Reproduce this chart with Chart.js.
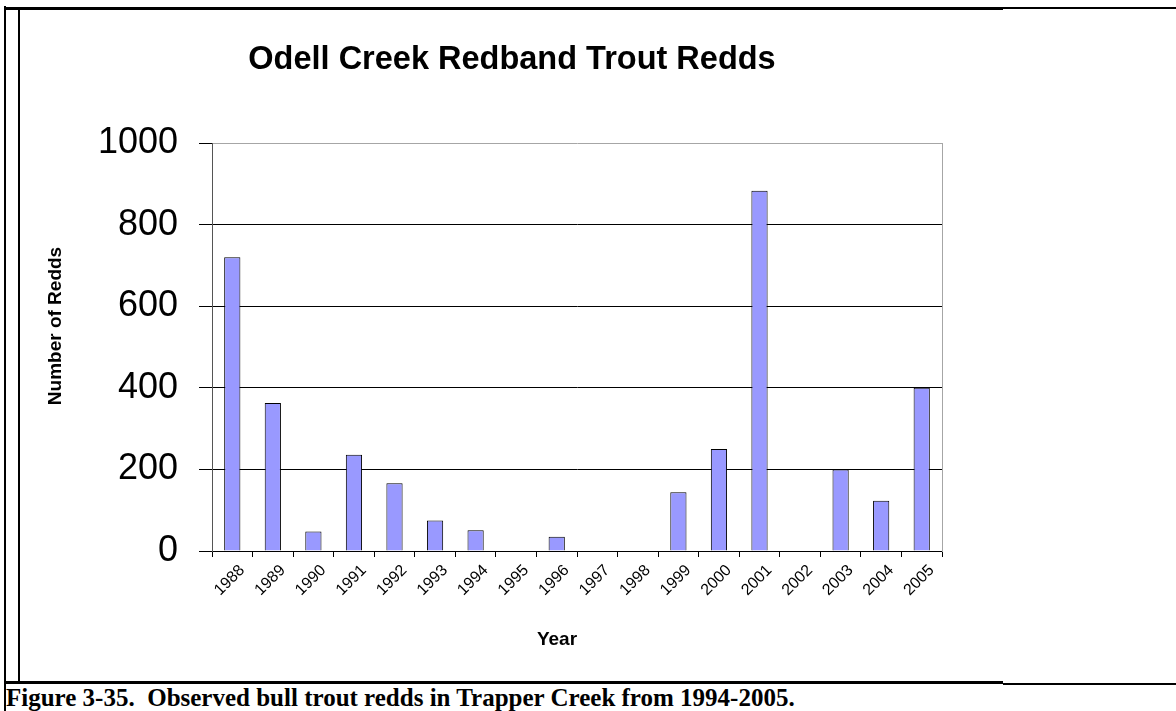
<!DOCTYPE html>
<html>
<head>
<meta charset="utf-8">
<script src="https://cdn.jsdelivr.net/npm/chart.js@4/dist/chart.umd.min.js"></script>
<style>
  html, body { margin: 0; padding: 0; background: #fff; }
  body { width: 1176px; height: 711px; position: relative; overflow: hidden; }
  .ln { position: absolute; background: #000; }
  #wrap { position: absolute; left: 21px; top: 10px; width: 982px; height: 671px; }
  #caption {
    position: absolute; left: 6px; top: 685px;
    font: bold 25px/1 "Liberation Serif", "Times New Roman", serif;
    white-space: pre; color: #000;
  }
</style>
</head>
<body>
<div class="ln" style="left:4px;top:6px;width:2px;height:705px"></div>
<div class="ln" style="left:4px;top:7px;width:999px;height:3px"></div>
<div class="ln" style="left:1003px;top:7px;width:173px;height:2px"></div>
<div class="ln" style="left:18px;top:7px;width:2px;height:677px"></div>
<div class="ln" style="left:4px;top:681px;width:999px;height:3px"></div>
<div class="ln" style="left:1003px;top:683px;width:173px;height:2px"></div>
<div id="wrap"><canvas id="reddChart"></canvas></div>
<div id="caption">Figure 3-35.  Observed bull trout redds in Trapper Creek from 1994-2005.</div>

<script>
const years = ["1988", "1989", "1990", "1991", "1992", "1993", "1994", "1995", "1996",
               "1997", "1998", "1999", "2000", "2001", "2002", "2003", "2004", "2005"];
const redds = [720, 363, 48, 236, 166, 75, 51, 0, 35, 0, 0, 144, 250, 883, 0, 200, 123, 400];
const yTicks = [0, 200, 400, 600, 800, 1000];

const chartTitle = "Odell Creek Redband Trout Redds";
const xTitle = "Year";
const yTitle = "Number of Redds";

const FONT = "'Liberation Sans', Arial, sans-serif";

// axis titles sit a bit off the plot centre in the original, so draw them here
const axisTitles = {
    id: "axisTitles",
    afterDraw(chart) {
        const ctx = chart.ctx;
        ctx.save();
        ctx.fillStyle = "#000";
        ctx.font = "bold 19px " + FONT;
        ctx.textAlign = "center";
        ctx.textBaseline = "middle";
        ctx.fillText(xTitle, 536, 630);
        ctx.translate(35, 316);
        ctx.rotate(-Math.PI / 2);
        ctx.fillText(yTitle, 0, 0);
        ctx.restore();
    }
};

const ctx = document.getElementById("reddChart");

new Chart(ctx, {
    type: "bar",
    data: {
        labels: years,
        datasets: [{
            label: "Redds",
            data: redds,
            backgroundColor: "#9999ff",
            borderColor: "#000",
            borderWidth: 1,
            borderSkipped: "start",
            categoryPercentage: 1,
            barPercentage: 0.4
        }]
    },
    options: {
        responsive: true,
        maintainAspectRatio: false,
        animation: false,
        layout: { padding: 0 },
        plugins: {
            legend: { display: false },
            tooltip: { enabled: false },
            title: {
                display: true,
                text: chartTitle,
                color: "#000",
                font: { family: FONT, size: 32.5, weight: "bold" },
                padding: { top: 31, bottom: 63 }
            }
        },
        scales: {
            x: {
                offset: true,
                grid: {
                    offset: true,
                    drawOnChartArea: false,
                    tickLength: 6,
                    color: "#000"
                },
                border: { color: "#000", width: 1 },
                ticks: {
                    color: "#000",
                    font: { family: FONT, size: 16 },
                    minRotation: 45,
                    maxRotation: 45,
                    padding: 4,
                    labelOffset: 10,
                    autoSkip: false
                },
                afterFit: s => { s.height = 130; }
            },
            y: {
                min: 0,
                max: 1000,
                afterBuildTicks: s => { s.ticks = yTicks.map(v => ({ value: v })); },
                grid: {
                    color: c => (c.tick && c.tick.value === 1000 ? "#a6a6a6" : "#000"),
                    tickColor: "#000",
                    tickLength: 13,
                    lineWidth: 1
                },
                border: { color: "#555", width: 1 },
                ticks: {
                    color: "#000",
                    font: { family: FONT, size: 36 },
                    padding: 21,
                    callback: v => String(v)
                },
                afterFit: s => { s.width = 191; }
            },
            yRight: {
                position: "right",
                min: 0,
                max: 1000,
                ticks: { display: false },
                grid: { drawOnChartArea: false, drawTicks: false },
                border: { color: "#a6a6a6", width: 1 },
                afterFit: s => { s.width = 61; }
            }
        }
    },
    plugins: [axisTitles]
});
</script>
</body>
</html>
